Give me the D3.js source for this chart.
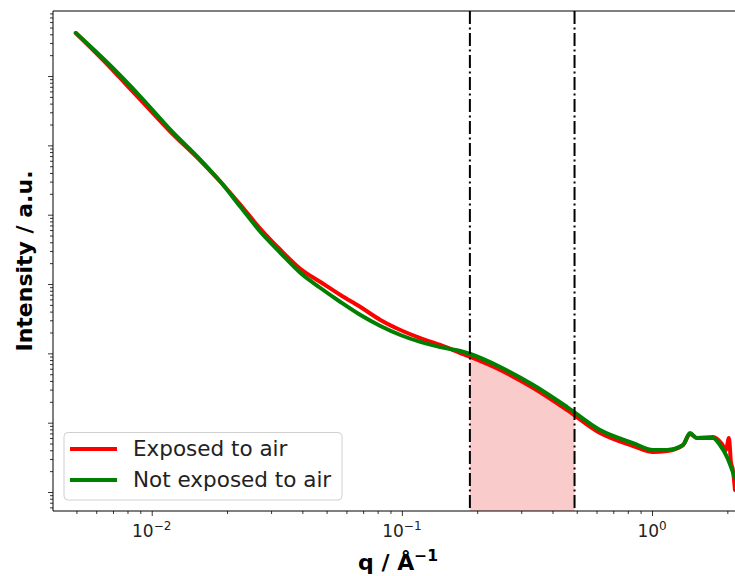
<!DOCTYPE html>
<html><head><meta charset="utf-8">
<script src="https://cdn.jsdelivr.net/npm/d3@7"></script>
<style>body{margin:0;background:#fff;} svg{display:block;font-family:"DejaVu Sans",sans-serif;}</style>
</head><body>
<svg id="c" width="735" height="576"></svg>
<script>
// Data (q in 1/Å, intensity in arbitrary units)
const qGreen = [0.00497,0.00686,0.00904,0.01191,0.01569,0.01886,0.02266,0.02723,0.03273,0.03934,0.04726,0.05682,0.06829,0.08206,0.09863,0.1185,0.1424,0.1712,0.1877,0.2472,0.3350,0.4578,0.6198,0.8398,1.009,1.148,1.330,1.418,1.512,1.752,1.869,1.993,2.145];
const iGreen = [4.174e6,1.395e6,4.983e5,1.665e5,6.147e4,2.961e4,1.290e4,5627,2802,1442,876,550,357,248,184,146,123,108,97.8,63.5,34.9,16.8,7.84,5.09,4.04,4.04,4.76,7.10,6.01,6.01,4.76,3.20,1.59];
const qRed = [0.00497,0.00686,0.00787,0.00904,0.01191,0.01569,0.01886,0.02266,0.02723,0.03273,0.03934,0.04726,0.05682,0.06829,0.08206,0.09863,0.1185,0.1424,0.1712,0.1877,0.2472,0.3350,0.4578,0.6198,0.8398,1.009,1.148,1.330,1.418,1.512,1.752,1.904,1.974,2.029,2.067,2.105,2.145];
const iRed = [4.174e6,1.305e6,7.672e5,4.510e5,1.558e5,5.947e4,2.961e4,1.379e4,6216,3094,1646,1069,694,466,303,217,166,132,101,88.6,57.5,31.6,15.2,7.10,4.61,3.78,3.90,4.76,6.87,6.01,6.21,4.92,4.04,6.01,2.71,2.08,1.07];
const seriesNames = ["Exposed to air","Not exposed to air"];
const seriesColors = ["#ff0000","#008000"];
const bandQ = [0.187,0.49];
const xTickValues = [0.01,0.1,1];
const xTickLabels = ["\u22122","\u22121","0"];

const svg = d3.select("#c");
const L=53, R=743, T=11, B=511;
const x = d3.scaleLog().domain([0.00403,2.31]).range([L,R]);
const y = d3.scaleLog().domain([Math.pow(10,-0.274),Math.pow(10,6.938)]).range([B,T]);

svg.append("defs").append("clipPath").attr("id","clip")
  .append("rect").attr("x",L).attr("y",T).attr("width",R-L).attr("height",B-T);
const g = svg.append("g").attr("clip-path","url(#clip)");

const red = qRed.map((q,i)=>({q,v:iRed[i]}));
const green = qGreen.map((q,i)=>({q,v:iGreen[i]}));

function interpLog(data,q){
  for(let i=0;i<data.length-1;i++){
    const a=data[i],b=data[i+1];
    if(q>=a.q && q<=b.q){
      const t=(Math.log(q)-Math.log(a.q))/(Math.log(b.q)-Math.log(a.q));
      return Math.exp(Math.log(a.v)+t*(Math.log(b.v)-Math.log(a.v)));
    }
  }
  return data[data.length-1].v;
}
const band = [{q:bandQ[0],v:interpLog(red,bandQ[0])}]
  .concat(red.filter(d=>d.q>bandQ[0]&&d.q<bandQ[1]))
  .concat([{q:bandQ[1],v:interpLog(red,bandQ[1])}]);
g.append("path").datum(band)
  .attr("d",d3.area().x(d=>x(d.q)).y0(B).y1(d=>y(d.v)).curve(d3.curveMonotoneX))
  .attr("fill","#f9cbcb");

const line = d3.line().x(d=>x(d.q)).y(d=>y(d.v)).curve(d3.curveMonotoneX);
g.append("path").datum(red).attr("d",line).attr("fill","none")
  .attr("stroke",seriesColors[0]).attr("stroke-width",4).attr("stroke-linejoin","round").attr("stroke-linecap","round");
g.append("path").datum(green).attr("d",line).attr("fill","none")
  .attr("stroke",seriesColors[1]).attr("stroke-width",4).attr("stroke-linejoin","round").attr("stroke-linecap","round");

// vertical dash-dot lines
bandQ.forEach(q=>{
  svg.append("line").attr("x1",x(q)).attr("x2",x(q)).attr("y1",T).attr("y2",B)
    .attr("stroke","#000").attr("stroke-width",2).attr("stroke-dasharray","13,3.5,2,3.5");
});

// spines
svg.append("line").attr("x1",L).attr("x2",R).attr("y1",T).attr("y2",T).attr("stroke","#000").attr("stroke-width",1);
svg.append("line").attr("x1",L).attr("x2",R).attr("y1",B).attr("y2",B).attr("stroke","#000").attr("stroke-width",1);
svg.append("line").attr("x1",L).attr("x2",L).attr("y1",T).attr("y2",B).attr("stroke","#000").attr("stroke-width",1);

// x ticks
const xMinor=[];
for(let e=-3;e<=0;e++) for(let k=2;k<=9;k++){const v=k*Math.pow(10,e); if(v>x.domain()[0]&&v<x.domain()[1]) xMinor.push(v);}
svg.append("g").attr("transform",`translate(0,${B})`).call(d3.axisBottom(x).tickValues(xMinor).tickSize(3).tickFormat(""))
  .call(s=>{s.select(".domain").remove();s.selectAll("line").attr("stroke","#000").attr("stroke-width",0.8);});
svg.append("g").attr("transform",`translate(0,${B})`).call(d3.axisBottom(x).tickValues(xTickValues).tickSize(5).tickFormat(""))
  .call(s=>{s.select(".domain").remove();s.selectAll("line").attr("stroke","#000").attr("stroke-width",0.8);});
xTickValues.forEach((v,i)=>{
  const t = svg.append("text").attr("x",x(v)).attr("y",537).attr("text-anchor","middle")
    .attr("font-size",17).attr("fill","#222");
  t.append("tspan").text("10");
  t.append("tspan").attr("dy",-7).attr("font-size",12).text(xTickLabels[i]);
});

// y ticks (no labels)
const yMajor=[], yMinor=[];
for(let e=-1;e<=7;e++){
  const v=Math.pow(10,e); if(v>=y.domain()[0]&&v<=y.domain()[1]) yMajor.push(v);
  for(let k=2;k<=9;k++){const m=k*Math.pow(10,e); if(m>y.domain()[0]&&m<y.domain()[1]) yMinor.push(m);}
}
svg.append("g").attr("transform",`translate(${L},0)`).call(d3.axisLeft(y).tickValues(yMinor).tickSize(3).tickFormat(""))
  .call(s=>{s.select(".domain").remove();s.selectAll("line").attr("stroke","#000").attr("stroke-width",0.8);});
svg.append("g").attr("transform",`translate(${L},0)`).call(d3.axisLeft(y).tickValues(yMajor).tickSize(5).tickFormat(""))
  .call(s=>{s.select(".domain").remove();s.selectAll("line").attr("stroke","#000").attr("stroke-width",0.8);});

// axis labels
const xl = svg.append("text").attr("x",(L+R)/2).attr("y",570).attr("text-anchor","middle")
  .attr("font-size",22).attr("font-weight","bold").attr("fill","#000");
xl.append("tspan").text("q / Å");
xl.append("tspan").attr("dy",-9).attr("font-size",15.5).text("\u22121");
svg.append("text").attr("transform",`translate(32,${(T+B)/2}) rotate(-90)`).attr("text-anchor","middle")
  .attr("font-size",22).attr("font-weight","bold").attr("fill","#000").text("Intensity / a.u.");

// legend
const lg = svg.append("g");
lg.append("rect").attr("x",64).attr("y",432.5).attr("width",278).attr("height",67.5).attr("rx",4)
  .attr("fill","#fff").attr("fill-opacity",0.8).attr("stroke","#d0d0d0").attr("stroke-width",1);
seriesNames.forEach((n,i)=>{
  const yy = 449 + i*31;
  lg.append("line").attr("x1",70).attr("x2",117).attr("y1",yy).attr("y2",yy)
    .attr("stroke",seriesColors[i]).attr("stroke-width",4);
  lg.append("text").attr("x",133).attr("y",yy+7).attr("font-size",21.5).attr("fill","#222").text(n);
});
</script>
</body></html>
